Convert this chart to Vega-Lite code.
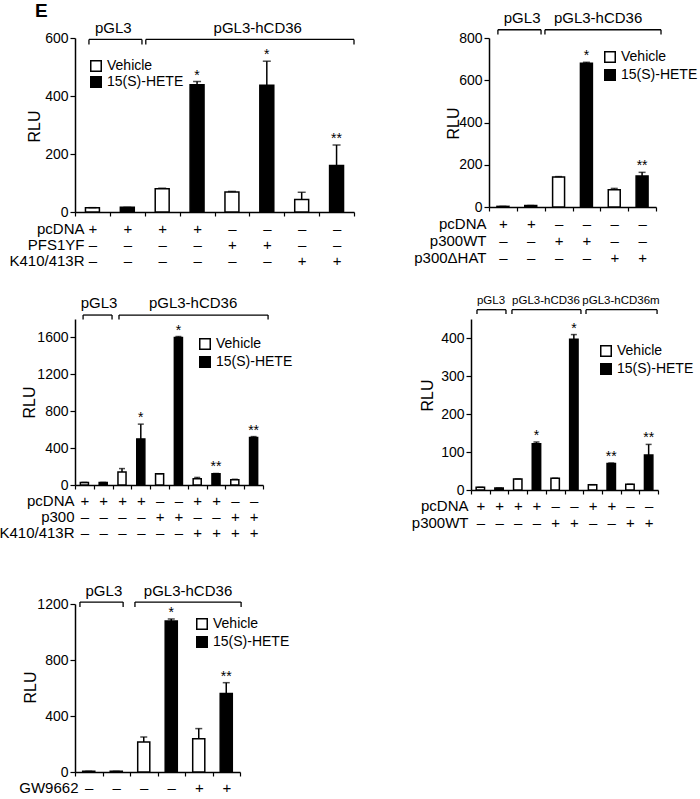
{
  "$schema": "https://vega.github.io/schema/vega-lite/v6.json",
  "padding": {"left": -2, "top": 2, "right": 0, "bottom": 0},
  "background": "white",
  "datasets": {
    "d1": [
      {"cond": "01|+|–|–", "treat": "Vehicle", "value": 15, "upper": 15, "sig": ""},
      {"cond": "02|+|–|–", "treat": "15(S)-HETE", "value": 16, "upper": 16, "sig": ""},
      {"cond": "03|+|–|–", "treat": "Vehicle", "value": 80, "upper": 82, "sig": ""},
      {"cond": "04|+|–|–", "treat": "15(S)-HETE", "value": 439, "upper": 450, "sig": "*"},
      {"cond": "05|–|+|–", "treat": "Vehicle", "value": 69, "upper": 71, "sig": ""},
      {"cond": "06|–|+|–", "treat": "15(S)-HETE", "value": 437, "upper": 520, "sig": "*"},
      {"cond": "07|–|–|+", "treat": "Vehicle", "value": 43, "upper": 68, "sig": ""},
      {"cond": "08|–|–|+", "treat": "15(S)-HETE", "value": 160, "upper": 231, "sig": "**"}
    ],
    "b1": [
      {"label": "pGL3", "a": 0.4, "b": 1.92, "mid": 1.1},
      {"label": "pGL3-hCD36", "a": 2.03, "b": 8.0, "mid": 5.24}
    ],
    "p1": [{"panel": "E"}],
    "d2": [
      {"cond": "01|+|–|–", "treat": "Vehicle", "value": 3, "upper": 3, "sig": ""},
      {"cond": "02|+|–|–", "treat": "15(S)-HETE", "value": 7, "upper": 7, "sig": ""},
      {"cond": "03|–|+|–", "treat": "Vehicle", "value": 142, "upper": 144, "sig": ""},
      {"cond": "04|–|+|–", "treat": "15(S)-HETE", "value": 680, "upper": 685, "sig": "*"},
      {"cond": "05|–|–|+", "treat": "Vehicle", "value": 82, "upper": 88, "sig": ""},
      {"cond": "06|–|–|+", "treat": "15(S)-HETE", "value": 147, "upper": 164, "sig": "**"}
    ],
    "b2": [
      {"label": "pGL3", "a": 0.32, "b": 1.87, "mid": 1.19},
      {"label": "pGL3-hCD36", "a": 2.01, "b": 6.18, "mid": 3.92}
    ],
    "d3": [
      {"cond": "01|+|–|–", "treat": "Vehicle", "value": 28, "upper": 28, "sig": ""},
      {"cond": "02|+|–|–", "treat": "15(S)-HETE", "value": 28, "upper": 28, "sig": ""},
      {"cond": "03|+|–|–", "treat": "Vehicle", "value": 140, "upper": 178, "sig": ""},
      {"cond": "04|+|–|–", "treat": "15(S)-HETE", "value": 500, "upper": 660, "sig": "*"},
      {"cond": "05|–|+|–", "treat": "Vehicle", "value": 122, "upper": 122, "sig": ""},
      {"cond": "06|–|+|–", "treat": "15(S)-HETE", "value": 1600, "upper": 1610, "sig": "*"},
      {"cond": "07|+|–|+", "treat": "Vehicle", "value": 67, "upper": 82, "sig": ""},
      {"cond": "08|+|–|+", "treat": "15(S)-HETE", "value": 122, "upper": 125, "sig": "**"},
      {"cond": "09|–|+|+", "treat": "Vehicle", "value": 58, "upper": 62, "sig": ""},
      {"cond": "10|–|+|+", "treat": "15(S)-HETE", "value": 515, "upper": 525, "sig": "**"}
    ],
    "b3": [
      {"label": "pGL3", "a": 0.43, "b": 1.97, "mid": 1.28},
      {"label": "pGL3-hCD36", "a": 2.34, "b": 10.27, "mid": 6.28}
    ],
    "d4": [
      {"cond": "01|+|–", "treat": "Vehicle", "value": 7, "upper": 7, "sig": ""},
      {"cond": "02|+|–", "treat": "15(S)-HETE", "value": 5, "upper": 5, "sig": ""},
      {"cond": "03|+|–", "treat": "Vehicle", "value": 29, "upper": 29, "sig": ""},
      {"cond": "04|+|–", "treat": "15(S)-HETE", "value": 122, "upper": 126, "sig": "*"},
      {"cond": "05|–|+", "treat": "Vehicle", "value": 31, "upper": 31, "sig": ""},
      {"cond": "06|–|+", "treat": "15(S)-HETE", "value": 397, "upper": 409, "sig": "*"},
      {"cond": "07|+|–", "treat": "Vehicle", "value": 14, "upper": 14, "sig": ""},
      {"cond": "08|+|–", "treat": "15(S)-HETE", "value": 70, "upper": 71, "sig": "**"},
      {"cond": "09|–|+", "treat": "Vehicle", "value": 15, "upper": 15, "sig": ""},
      {"cond": "10|–|+", "treat": "15(S)-HETE", "value": 92, "upper": 120, "sig": "**"}
    ],
    "b4": [
      {"label": "pGL3", "a": 0.32, "b": 1.87, "mid": 1.07},
      {"label": "pGL3-hCD36", "a": 2.19, "b": 5.88, "mid": 4.01},
      {"label": "pGL3-hCD36m", "a": 6.15, "b": 9.95, "mid": 8.02}
    ],
    "d5": [
      {"cond": "01|–", "treat": "Vehicle", "value": 5, "upper": 5, "sig": ""},
      {"cond": "02|–", "treat": "15(S)-HETE", "value": 5, "upper": 5, "sig": ""},
      {"cond": "03|–", "treat": "Vehicle", "value": 214, "upper": 250, "sig": ""},
      {"cond": "04|–", "treat": "15(S)-HETE", "value": 1079, "upper": 1093, "sig": "*"},
      {"cond": "05|+", "treat": "Vehicle", "value": 238, "upper": 310, "sig": ""},
      {"cond": "06|+", "treat": "15(S)-HETE", "value": 560, "upper": 638, "sig": "**"}
    ],
    "b5": [
      {"label": "pGL3", "a": 0.18, "b": 1.75, "mid": 1.05},
      {"label": "pGL3-hCD36", "a": 2.18, "b": 6.04, "mid": 4.11}
    ]
  },
  "config": {
    "font": "Liberation Sans",
    "view": {"stroke": null},
    "axis": {"grid": false, "domainColor": "black", "tickColor": "black", "labelColor": "black", "titleColor": "black", "domainWidth": 1.5, "tickWidth": 1.2, "titleFontWeight": "normal", "labelFontSize": 14, "titleFontSize": 15, "labelFont": "Liberation Sans", "titleFont": "Liberation Sans"},
    "axisX": {"labelAngle": 0, "tickBand": "extent", "tickSize": 4, "labelBaseline": "top", "labelFontSize": 15, "labelOverlap": false, "labelFlush": false, "titleAlign": "right", "titleBaseline": "top", "titleFontSize": 15},
    "axisY": {"tickSize": 5, "labelPadding": 2, "labelOverlap": false, "format": "d", "titleAngle": 270, "titleAlign": "center", "titleBaseline": "middle", "titleFontSize": 16},
    "legend": {"orient": "none", "symbolType": "square", "symbolSize": 110, "symbolStrokeColor": "black", "symbolStrokeWidth": 1.5, "labelFontSize": 14, "labelOffset": 4, "padding": 0, "rowPadding": 0, "labelColor": "black", "labelFont": "Liberation Sans"},
    "text": {"color": "black", "font": "Liberation Sans"},
    "rule": {"color": "black"},
    "tick": {"color": "black"}
  },
  "resolve": {"scale": {"fill": "independent"}, "legend": {"fill": "independent"}},
  "vconcat": [
    {
      "resolve": {"scale": {"fill": "independent"}, "legend": {"fill": "independent"}},
      "vconcat": [
        {
          "resolve": {"scale": {"fill": "independent"}, "legend": {"fill": "independent"}},
          "hconcat": [
            {
              "width": 279, "height": 174,
              "layer": [
                {
                  "data": {"name": "d1"},
                  "encoding": {
                    "x": {"field": "cond", "type": "ordinal", "scale": {"paddingInner": 0, "paddingOuter": 0},
                      "axis": {"labelExpr": "slice(split(datum.value, '|'), 1)", "labelLineHeight": 16, "labelPadding": 5, "title": ["pcDNA", "PFS1YF", "K410/413R"], "titleX": 9, "titleY": 9, "titleLineHeight": 16}}
                  },
                  "layer": [
                    {"mark": {"type": "bar", "width": {"band": 0.4}, "stroke": "black", "strokeWidth": 1.5},
                     "encoding": {
                       "y": {"field": "value", "type": "quantitative", "scale": {"domain": [0, 600], "nice": false},
                         "axis": {"values": [0, 100, 200, 300, 400, 500, 600], "labelExpr": "datum.value % 200 === 0 ? datum.label : ''", "title": "RLU", "titleX": -41, "titleY": 88}},
                       "fill": {"field": "treat", "type": "nominal", "scale": {"domain": ["Vehicle", "15(S)-HETE"], "range": ["white", "black"]},
                         "legend": {"title": null, "legendX": 14, "legendY": 21, "rowPadding": -2}}
                     }},
                    {"mark": {"type": "rule", "strokeWidth": 1.5}, "encoding": {"y": {"field": "value", "type": "quantitative"}, "y2": {"field": "upper"}}},
                    {"mark": {"type": "tick", "orient": "horizontal", "size": 8, "thickness": 1.5}, "encoding": {"y": {"field": "upper", "type": "quantitative"}}},
                    {"mark": {"type": "text", "dy": -2, "baseline": "alphabetic", "fontSize": 14}, "encoding": {"y": {"field": "upper", "type": "quantitative"}, "text": {"field": "sig"}}}
                  ]
                },
                {
                  "layer": [
                    {"data": {"name": "b1"}, "mark": {"type": "rule", "strokeWidth": 1.3}, "encoding": {"x": {"field": "a", "type": "quantitative", "scale": {"domain": [0, 8], "nice": false, "zero": false}, "axis": null}, "x2": {"field": "b"}, "y": {"datum": 595, "type": "quantitative"}}},
                    {"data": {"name": "b1"}, "mark": {"type": "rule", "strokeWidth": 1.3}, "encoding": {"x": {"field": "a", "type": "quantitative"}, "y": {"datum": 595, "type": "quantitative"}, "y2": {"datum": 578}}},
                    {"data": {"name": "b1"}, "mark": {"type": "rule", "strokeWidth": 1.3}, "encoding": {"x": {"field": "b", "type": "quantitative"}, "y": {"datum": 595, "type": "quantitative"}, "y2": {"datum": 578}}},
                    {"data": {"name": "b1"}, "mark": {"type": "text", "dy": -6, "baseline": "alphabetic", "fontSize": 15}, "encoding": {"x": {"field": "mid", "type": "quantitative"}, "y": {"datum": 595, "type": "quantitative"}, "text": {"field": "label"}}},
                    {"data": {"name": "p1"}, "mark": {"type": "text", "align": "left", "baseline": "alphabetic", "fontSize": 19, "fontWeight": "bold", "dx": -40}, "encoding": {"x": {"datum": 0, "type": "quantitative"}, "y": {"datum": 672, "type": "quantitative"}, "text": {"field": "panel"}}}
                  ]
                }
              ],
              "resolve": {"scale": {"x": "independent"}}
            },
            {
              "width": 167, "height": 169,
              "layer": [
                {
                  "data": {"name": "d2"},
                  "encoding": {
                    "x": {"field": "cond", "type": "ordinal", "scale": {"paddingInner": 0, "paddingOuter": 0},
                      "axis": {"labelExpr": "slice(split(datum.value, '|'), 1)", "labelLineHeight": 17, "labelPadding": 5, "title": ["pcDNA", "p300WT", "p300ΔHAT"], "titleX": -3, "titleY": 9, "titleLineHeight": 17}}
                  },
                  "layer": [
                    {"mark": {"type": "bar", "width": {"band": 0.43}, "stroke": "black", "strokeWidth": 1.5},
                     "encoding": {
                       "y": {"field": "value", "type": "quantitative", "scale": {"domain": [0, 800], "nice": false},
                         "axis": {"values": [0, 100, 200, 300, 400, 500, 600, 700, 800], "labelExpr": "datum.value % 200 === 0 ? datum.label : ''", "title": "RLU", "titleX": -36, "titleY": 85}},
                       "fill": {"field": "treat", "type": "nominal", "scale": {"domain": ["Vehicle", "15(S)-HETE"], "range": ["white", "black"]},
                         "legend": {"title": null, "legendX": 114, "legendY": 12}}
                     }},
                    {"mark": {"type": "rule", "strokeWidth": 1.5}, "encoding": {"y": {"field": "value", "type": "quantitative"}, "y2": {"field": "upper"}}},
                    {"mark": {"type": "tick", "orient": "horizontal", "size": 7, "thickness": 1.5}, "encoding": {"y": {"field": "upper", "type": "quantitative"}}},
                    {"mark": {"type": "text", "dy": -2, "baseline": "alphabetic", "fontSize": 14}, "encoding": {"y": {"field": "upper", "type": "quantitative"}, "text": {"field": "sig"}}}
                  ]
                },
                {
                  "data": {"name": "b2"},
                  "layer": [
                    {"mark": {"type": "rule", "strokeWidth": 1.3}, "encoding": {"x": {"field": "a", "type": "quantitative", "scale": {"domain": [0, 6], "nice": false, "zero": false}, "axis": null}, "x2": {"field": "b"}, "y": {"datum": 839, "type": "quantitative"}}},
                    {"mark": {"type": "rule", "strokeWidth": 1.3}, "encoding": {"x": {"field": "a", "type": "quantitative"}, "y": {"datum": 839, "type": "quantitative"}, "y2": {"datum": 816}}},
                    {"mark": {"type": "rule", "strokeWidth": 1.3}, "encoding": {"x": {"field": "b", "type": "quantitative"}, "y": {"datum": 839, "type": "quantitative"}, "y2": {"datum": 816}}},
                    {"mark": {"type": "text", "dy": -7, "baseline": "alphabetic", "fontSize": 15}, "encoding": {"x": {"field": "mid", "type": "quantitative"}, "y": {"datum": 839, "type": "quantitative"}, "text": {"field": "label"}}}
                  ]
                }
              ],
              "resolve": {"scale": {"x": "independent"}}
            }
          ],
          "spacing": 58
        },
        {
          "resolve": {"scale": {"fill": "independent"}, "legend": {"fill": "independent"}},
          "hconcat": [
            {
              "width": 188, "height": 166,
              "layer": [
                {
                  "data": {"name": "d3"},
                  "encoding": {
                    "x": {"field": "cond", "type": "ordinal", "scale": {"paddingInner": 0, "paddingOuter": 0},
                      "axis": {"labelExpr": "slice(split(datum.value, '|'), 1)", "labelLineHeight": 16, "labelPadding": 4, "title": ["pcDNA", "p300", "K410/413R"], "titleX": -1, "titleY": 8, "titleLineHeight": 16}}
                  },
                  "layer": [
                    {"mark": {"type": "bar", "width": {"band": 0.43}, "stroke": "black", "strokeWidth": 1.5},
                     "encoding": {
                       "y": {"field": "value", "type": "quantitative", "scale": {"domain": [0, 1800], "nice": false},
                         "axis": {"values": [0, 200, 400, 600, 800, 1000, 1200, 1400, 1600, 1800], "title": "RLU", "titleX": -46, "titleY": 83}},
                       "fill": {"field": "treat", "type": "nominal", "scale": {"domain": ["Vehicle", "15(S)-HETE"], "range": ["white", "black"]},
                         "legend": {"title": null, "legendX": 123, "legendY": 18}}
                     }},
                    {"mark": {"type": "rule", "strokeWidth": 1.5}, "encoding": {"y": {"field": "value", "type": "quantitative"}, "y2": {"field": "upper"}}},
                    {"mark": {"type": "tick", "orient": "horizontal", "size": 6, "thickness": 1.5}, "encoding": {"y": {"field": "upper", "type": "quantitative"}}},
                    {"mark": {"type": "text", "dy": -2, "baseline": "alphabetic", "fontSize": 14}, "encoding": {"y": {"field": "upper", "type": "quantitative"}, "text": {"field": "sig"}}}
                  ]
                },
                {
                  "data": {"name": "b3"},
                  "layer": [
                    {"mark": {"type": "rule", "strokeWidth": 1.3}, "encoding": {"x": {"field": "a", "type": "quantitative", "scale": {"domain": [0, 10], "nice": false, "zero": false}, "axis": null}, "x2": {"field": "b"}, "y": {"datum": 1843, "type": "quantitative"}}},
                    {"mark": {"type": "rule", "strokeWidth": 1.3}, "encoding": {"x": {"field": "a", "type": "quantitative"}, "y": {"datum": 1843, "type": "quantitative"}, "y2": {"datum": 1795}}},
                    {"mark": {"type": "rule", "strokeWidth": 1.3}, "encoding": {"x": {"field": "b", "type": "quantitative"}, "y": {"datum": 1843, "type": "quantitative"}, "y2": {"datum": 1795}}},
                    {"mark": {"type": "text", "dy": -7, "baseline": "alphabetic", "fontSize": 15}, "encoding": {"x": {"field": "mid", "type": "quantitative"}, "y": {"datum": 1843, "type": "quantitative"}, "text": {"field": "label"}}}
                  ]
                }
              ],
              "resolve": {"scale": {"x": "independent"}}
            },
            {
              "width": 187, "height": 171,
              "layer": [
                {
                  "data": {"name": "d4"},
                  "encoding": {
                    "x": {"field": "cond", "type": "ordinal", "scale": {"paddingInner": 0, "paddingOuter": 0},
                      "axis": {"labelExpr": "slice(split(datum.value, '|'), 1)", "labelLineHeight": 17, "labelPadding": 4, "title": ["pcDNA", "p300WT"], "titleX": -3, "titleY": 8, "titleLineHeight": 17}}
                  },
                  "layer": [
                    {"mark": {"type": "bar", "width": {"band": 0.45}, "stroke": "black", "strokeWidth": 1.5},
                     "encoding": {
                       "y": {"field": "value", "type": "quantitative", "scale": {"domain": [0, 450], "nice": false},
                         "axis": {"values": [0, 50, 100, 150, 200, 250, 300, 350, 400, 450], "title": "RLU", "titleX": -44, "titleY": 76}},
                       "fill": {"field": "treat", "type": "nominal", "scale": {"domain": ["Vehicle", "15(S)-HETE"], "range": ["white", "black"]},
                         "legend": {"title": null, "legendX": 128, "legendY": 25}}
                     }},
                    {"mark": {"type": "rule", "strokeWidth": 1.5}, "encoding": {"y": {"field": "value", "type": "quantitative"}, "y2": {"field": "upper"}}},
                    {"mark": {"type": "tick", "orient": "horizontal", "size": 6, "thickness": 1.5}, "encoding": {"y": {"field": "upper", "type": "quantitative"}}},
                    {"mark": {"type": "text", "dy": -2, "baseline": "alphabetic", "fontSize": 14}, "encoding": {"y": {"field": "upper", "type": "quantitative"}, "text": {"field": "sig"}}}
                  ]
                },
                {
                  "data": {"name": "b4"},
                  "layer": [
                    {"mark": {"type": "rule", "strokeWidth": 1.3}, "encoding": {"x": {"field": "a", "type": "quantitative", "scale": {"domain": [0, 10], "nice": false, "zero": false}, "axis": null}, "x2": {"field": "b"}, "y": {"datum": 474.5, "type": "quantitative"}}},
                    {"mark": {"type": "rule", "strokeWidth": 1.3}, "encoding": {"x": {"field": "a", "type": "quantitative"}, "y": {"datum": 474.5, "type": "quantitative"}, "y2": {"datum": 463}}},
                    {"mark": {"type": "rule", "strokeWidth": 1.3}, "encoding": {"x": {"field": "b", "type": "quantitative"}, "y": {"datum": 474.5, "type": "quantitative"}, "y2": {"datum": 463}}},
                    {"mark": {"type": "text", "dy": -6, "baseline": "alphabetic", "fontSize": 11.5}, "encoding": {"x": {"field": "mid", "type": "quantitative"}, "y": {"datum": 474.5, "type": "quantitative"}, "text": {"field": "label"}}}
                  ]
                }
              ],
              "resolve": {"scale": {"x": "independent"}}
            }
          ],
          "spacing": 118
        }
      ],
      "spacing": 26
    },
    {
      "width": 165, "height": 168,
      "layer": [
        {
          "data": {"name": "d5"},
          "encoding": {
            "x": {"field": "cond", "type": "ordinal", "scale": {"paddingInner": 0, "paddingOuter": 0},
              "axis": {"labelExpr": "slice(split(datum.value, '|'), 1)", "labelLineHeight": 16, "labelPadding": 4, "title": ["GW9662"], "titleX": 3, "titleY": 8, "titleLineHeight": 16}}
          },
          "layer": [
            {"mark": {"type": "bar", "width": {"band": 0.44}, "stroke": "black", "strokeWidth": 1.5},
             "encoding": {
               "y": {"field": "value", "type": "quantitative", "scale": {"domain": [0, 1200], "nice": false},
                 "axis": {"values": [0, 200, 400, 600, 800, 1000, 1200], "labelExpr": "datum.value % 400 === 0 ? datum.label : ''", "title": "RLU", "titleX": -45, "titleY": 83}},
               "fill": {"field": "treat", "type": "nominal", "scale": {"domain": ["Vehicle", "15(S)-HETE"], "range": ["white", "black"]},
                 "legend": {"title": null, "legendX": 120, "legendY": 13}}
             }},
            {"mark": {"type": "rule", "strokeWidth": 1.5}, "encoding": {"y": {"field": "value", "type": "quantitative"}, "y2": {"field": "upper"}}},
            {"mark": {"type": "tick", "orient": "horizontal", "size": 7, "thickness": 1.5}, "encoding": {"y": {"field": "upper", "type": "quantitative"}}},
            {"mark": {"type": "text", "dy": -2, "baseline": "alphabetic", "fontSize": 14}, "encoding": {"y": {"field": "upper", "type": "quantitative"}, "text": {"field": "sig"}}}
          ]
        },
        {
          "data": {"name": "b5"},
          "layer": [
            {"mark": {"type": "rule", "strokeWidth": 1.3}, "encoding": {"x": {"field": "a", "type": "quantitative", "scale": {"domain": [0, 6], "nice": false, "zero": false}, "axis": null}, "x2": {"field": "b"}, "y": {"datum": 1214, "type": "quantitative"}}},
            {"mark": {"type": "rule", "strokeWidth": 1.3}, "encoding": {"x": {"field": "a", "type": "quantitative"}, "y": {"datum": 1214, "type": "quantitative"}, "y2": {"datum": 1179}}},
            {"mark": {"type": "rule", "strokeWidth": 1.3}, "encoding": {"x": {"field": "b", "type": "quantitative"}, "y": {"datum": 1214, "type": "quantitative"}, "y2": {"datum": 1179}}},
            {"mark": {"type": "text", "dy": -6, "baseline": "alphabetic", "fontSize": 15}, "encoding": {"x": {"field": "mid", "type": "quantitative"}, "y": {"datum": 1214, "type": "quantitative"}, "text": {"field": "label"}}}
          ]
        }
      ],
      "resolve": {"scale": {"x": "independent"}}
    }
  ],
  "spacing": 44
}
